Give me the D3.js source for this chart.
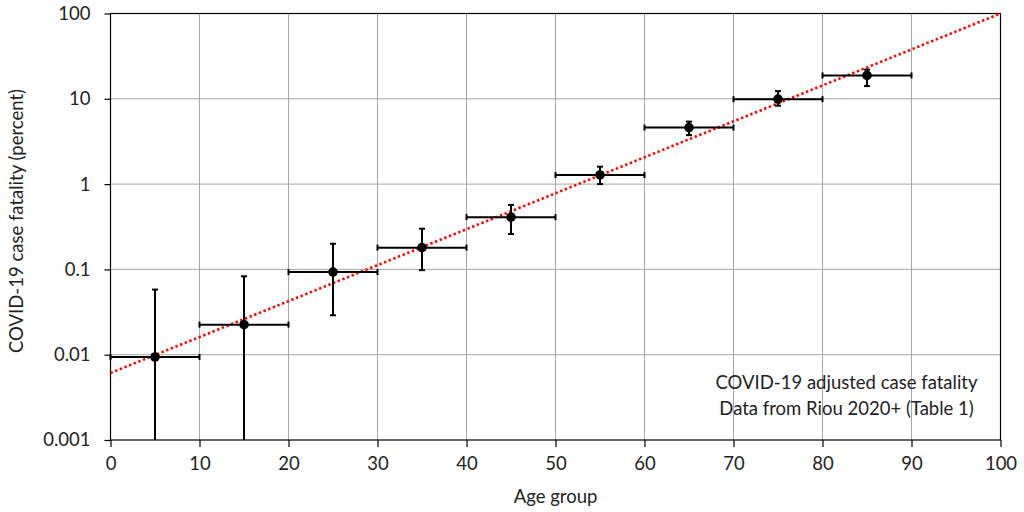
<!DOCTYPE html>
<html>
<head>
<meta charset="utf-8">
<script src="https://cdn.jsdelivr.net/npm/d3@7"></script>
<style>
  body { margin: 0; background: #fff; }
  svg text { font-family: Lato, "Open Sans", sans-serif; fill: #222; }
</style>
</head>
<body>
<svg id="chart" width="1024" height="512"></svg>
<script>
// age group midpoints, case fatality (percent), 95% interval
const ages = [5, 15, 25, 35, 45, 55, 65, 75, 85];
const fatality = [0.0094, 0.0225, 0.093, 0.18, 0.41, 1.28, 4.6, 9.9, 18.8];
const upper = [0.058, 0.083, 0.2, 0.30, 0.57, 1.6, 5.4, 12.3, 22];
const lower = [0, 0, 0.029, 0.098, 0.26, 1.0, 3.75, 8.3, 14.1];
const groupLo = [0, 10, 20, 30, 40, 50, 60, 70, 80];
const groupHi = [10, 20, 30, 40, 50, 60, 70, 80, 90];

// exponential trend line end points
const trendX = [0, 100];
const trendY = [0.0061, 100];

const xTicks = [0, 10, 20, 30, 40, 50, 60, 70, 80, 90, 100];
const yTicks = [0.001, 0.01, 0.1, 1, 10, 100];
const yTickLabels = ['0.001', '0.01', '0.1', '1', '10', '100'];

const fontSize = '18.5px';
const margin = { top: 13.5, right: 23.5, bottom: 72, left: 110.5 };
const width = 1024;
const height = 512;
const innerWidth = width - margin.left - margin.right;
const innerHeight = height - margin.top - margin.bottom;

const svg = d3.select('#chart');
const g = svg.append('g')
  .attr('transform', `translate(${margin.left}, ${margin.top})`);

const x = d3.scaleLinear().domain([0, 100]).range([0, innerWidth]);
const y = d3.scaleLog().domain([0.001, 100]).range([innerHeight, 0]).clamp(true);

// grid
g.append('g')
  .selectAll('line')
  .data(xTicks.slice(1, -1))
  .enter().append('line')
    .attr('x1', d => x(d)).attr('x2', d => x(d))
    .attr('y1', 0).attr('y2', innerHeight)
    .attr('stroke', '#a6a6a6').attr('stroke-width', 1);

g.append('g')
  .selectAll('line')
  .data(yTicks.slice(1, -1))
  .enter().append('line')
    .attr('x1', 0).attr('x2', innerWidth)
    .attr('y1', d => y(d)).attr('y2', d => y(d))
    .attr('stroke', '#a6a6a6').attr('stroke-width', 1);

// frame
g.append('rect')
  .attr('width', innerWidth).attr('height', innerHeight)
  .attr('fill', 'none').attr('stroke', '#000').attr('stroke-width', 1.2);

// axes
const xAxis = g.append('g')
  .attr('transform', `translate(0, ${innerHeight})`)
  .call(d3.axisBottom(x).tickValues(xTicks).tickSize(7).tickPadding(10).tickSizeOuter(0));

const yAxis = g.append('g')
  .call(d3.axisLeft(y).tickValues(yTicks).tickSize(6).tickPadding(14)
    .tickFormat((d, i) => yTickLabels[i]).tickSizeOuter(0));

[xAxis, yAxis].forEach(a => {
  a.select('.domain').remove();
  a.selectAll('.tick line').attr('stroke', '#000').attr('stroke-width', 1.2);
  a.selectAll('text')
    .style('font-family', 'Lato, "Open Sans", sans-serif')
    .style('font-size', fontSize)
    .attr('fill', '#222');
});

// trend line
g.append('path')
  .datum(trendX.map((d, i) => [d, trendY[i]]))
  .attr('d', d3.line().x(d => x(d[0])).y(d => y(d[1])))
  .attr('fill', 'none')
  .attr('stroke', '#ff0000')
  .attr('stroke-width', 2.6)
  .attr('stroke-dasharray', '2.4 2.6');

// error bars
const bars = g.append('g').attr('stroke', '#000').attr('stroke-width', 2);
const capW = 3;

ages.forEach((a, i) => {
  // horizontal: age group
  bars.append('line')
    .attr('x1', x(groupLo[i])).attr('x2', x(groupHi[i]))
    .attr('y1', y(fatality[i])).attr('y2', y(fatality[i]));
  [groupLo[i], groupHi[i]].forEach(v => {
    bars.append('line')
      .attr('x1', x(v)).attr('x2', x(v))
      .attr('y1', y(fatality[i]) - capW).attr('y2', y(fatality[i]) + capW);
  });
  // vertical: interval
  bars.append('line')
    .attr('x1', x(a)).attr('x2', x(a))
    .attr('y1', y(lower[i])).attr('y2', y(upper[i]));
  [lower[i], upper[i]].forEach(v => {
    if (v <= 0.001) return;
    bars.append('line')
      .attr('x1', x(a) - capW).attr('x2', x(a) + capW)
      .attr('y1', y(v)).attr('y2', y(v));
  });
});

// points
g.append('g')
  .selectAll('circle')
  .data(ages)
  .enter().append('circle')
    .attr('cx', d => x(d))
    .attr('cy', (d, i) => y(fatality[i]))
    .attr('r', 4.8)
    .attr('fill', '#000');

// note box
const note = g.append('text')
  .attr('text-anchor', 'middle')
  .style('font-size', fontSize);
note.append('tspan')
  .attr('x', x(82.7)).attr('y', 375)
  .text('COVID-19 adjusted case fatality');
note.append('tspan')
  .attr('x', x(82.7)).attr('y', 401)
  .text('Data from Riou 2020+ (Table 1)');

// axis titles
svg.append('text')
  .attr('x', margin.left + innerWidth / 2)
  .attr('y', 503)
  .attr('text-anchor', 'middle')
  .style('font-size', fontSize)
  .text('Age group');

svg.append('text')
  .attr('transform', `translate(23, 221) rotate(-90)`)
  .attr('text-anchor', 'middle')
  .style('font-size', fontSize)
  .text('COVID-19 case fatality (percent)');
</script>
</body>
</html>
